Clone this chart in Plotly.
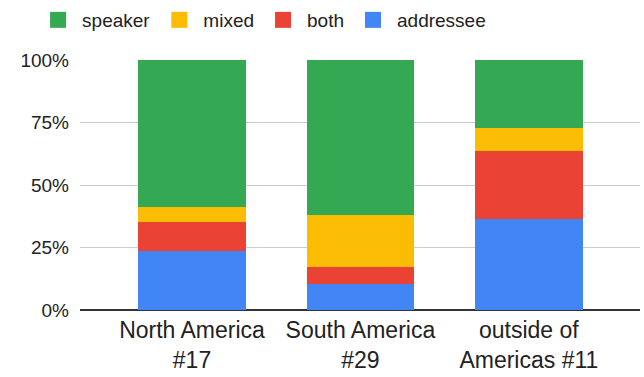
import plotly.graph_objects as go

categories = ["North America<br>#17", "South America<br>#29", "outside of<br>Americas #11"]
addressee = [4, 3, 4]
both = [2, 2, 3]
mixed = [1, 6, 1]
speaker = [10, 18, 3]
y_ticks = [0, 25, 50, 75, 100]
y_labels = ["0%", "25%", "50%", "75%", "100%"]

series = [
    ("addressee", addressee, "#4285F4"),
    ("both", both, "#EA4335"),
    ("mixed", mixed, "#FBBC04"),
    ("speaker", speaker, "#34A853"),
]

x_pos = list(range(len(categories)))
fig = go.Figure()
for name, vals, color in series:
    fig.add_trace(go.Bar(x=x_pos, y=vals, name=name, legendgroup=name, showlegend=False,
                         marker=dict(color=color, line=dict(width=0)), width=0.64))
for name, vals, color in series:
    fig.add_trace(go.Scatter(x=[None], y=[None], mode="markers", name=name, legendgroup=name,
                             marker=dict(symbol="square", size=16, color=color), hoverinfo="skip"))

fig.update_layout(
    barmode="stack",
    barnorm="percent",
    width=644, height=377,
    margin=dict(l=80, r=4, t=60, b=67, autoexpand=False),
    paper_bgcolor="white", plot_bgcolor="white",
    font=dict(family="Liberation Sans, Arial, sans-serif", size=17, color="#222222"),
    legend=dict(orientation="h", traceorder="reversed", x=-0.082, xanchor="left",
                y=1.16, yanchor="middle", font=dict(size=19, color="#222222"), itemwidth=38),
    xaxis=dict(tickmode="array", tickvals=x_pos, ticktext=categories, range=[-0.665, 2.66],
               showgrid=False, showline=False, ticks="", tickfont=dict(size=23),
               ticklabelstandoff=4),
    yaxis=dict(range=[0, 100], tickmode="array", tickvals=y_ticks, ticktext=y_labels,
               gridcolor="#cccccc", gridwidth=1, zeroline=True, zerolinecolor="#333333",
               zerolinewidth=1.5, tickfont=dict(size=19), ticks="", ticklabelstandoff=10),
)
fig.write_html("out.html")
